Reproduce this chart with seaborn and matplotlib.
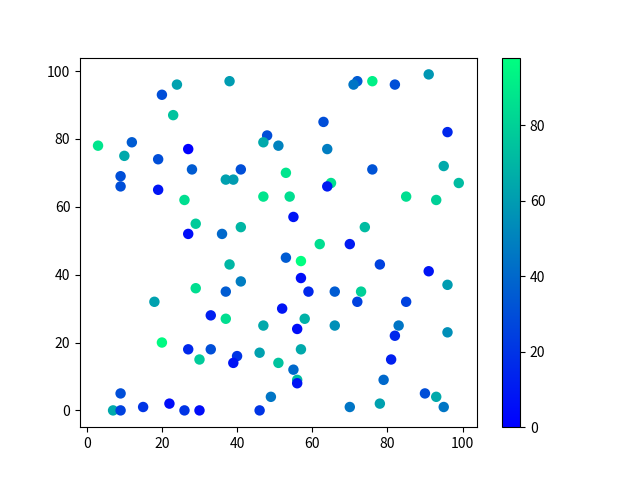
import matplotlib
matplotlib.use("Agg")
import matplotlib.pyplot as plt
import seaborn as sns
import numpy as np
import pandas as pd

x_vals = [3, 24, 38, 20, 23, 12, 48, 47, 51, 10, 27, 19, 28, 41, 53, 9, 9, 37, 39, 19,
          47, 26, 29, 27, 36, 41,
          72, 71, 76, 82, 91, 63, 96, 64, 76, 95, 99, 65, 64, 54, 85, 93, 55, 74, 62, 70,
          38, 41, 29, 37, 18, 33, 37, 47, 20, 27, 33, 40, 39, 46, 51, 30, 9, 49, 7, 9,
          15, 22, 26, 30, 46, 53, 52,
          57, 57, 78, 91, 96, 59, 66, 73, 72, 85, 58, 56, 66, 83, 82, 96, 57, 55, 81, 56,
          56, 79, 90, 93, 70, 78, 95]
y_vals = [78, 96, 97, 93, 87, 79, 81, 79, 78, 75, 77, 74, 71, 71, 70, 69, 66, 68, 68, 65,
          63, 62, 55, 52, 52, 54,
          97, 96, 97, 96, 99, 85, 82, 77, 71, 72, 67, 67, 66, 63, 63, 62, 57, 54, 49, 49,
          43, 38, 36, 35, 32, 28, 27, 25, 20, 18, 18, 16, 14, 17, 14, 15, 5, 4, 0, 0,
          1, 2, 0, 0, 0, 45, 30,
          44, 39, 43, 41, 37, 35, 35, 35, 32, 32, 27, 24, 25, 25, 22, 23, 18, 12, 15, 9,
          8, 9, 5, 4, 1, 2, 1]
c_vals = [88, 62, 60, 30, 75, 35, 30, 65, 50, 65, 0, 30, 35, 30, 88, 30, 30, 62, 60, 8,
          88, 85, 78, 5, 40, 70,
          35, 45, 92, 30, 58, 30, 15, 48, 32, 65, 72, 85, 10, 85, 85, 80, 8, 72, 85, 10,
          70, 48, 85, 35, 62, 12, 85, 65, 96, 15, 30, 20, 8, 62, 75, 78, 30, 45, 65, 25,
          20, 5, 20, 5, 20, 35, 8,
          98, 5, 25, 8, 60, 15, 35, 80, 25, 25, 68, 5, 55, 45, 15, 55, 65, 40, 12, 72,
          8, 40, 30, 65, 45, 62, 45]

df = pd.DataFrame({"x": x_vals, "y": y_vals, "c": c_vals})

plt.rcParams['font.family'] = ['Noto Sans CJK SC', 'DejaVu Sans']

fig, ax = plt.subplots(figsize=(6.4, 4.8), dpi=100)
norm = plt.Normalize(df["c"].min(), df["c"].max())
sns.scatterplot(data=df, x="x", y="y", hue="c", palette="winter", hue_norm=norm,
                legend=False, s=36, edgecolor="face", linewidth=1.5, ax=ax)
ax.set_xlabel("")
ax.set_ylabel("")

sm = plt.cm.ScalarMappable(cmap="winter", norm=norm)
sm.set_array([])
fig.colorbar(sm, ax=ax)

fig.savefig("out.png", dpi=100)
